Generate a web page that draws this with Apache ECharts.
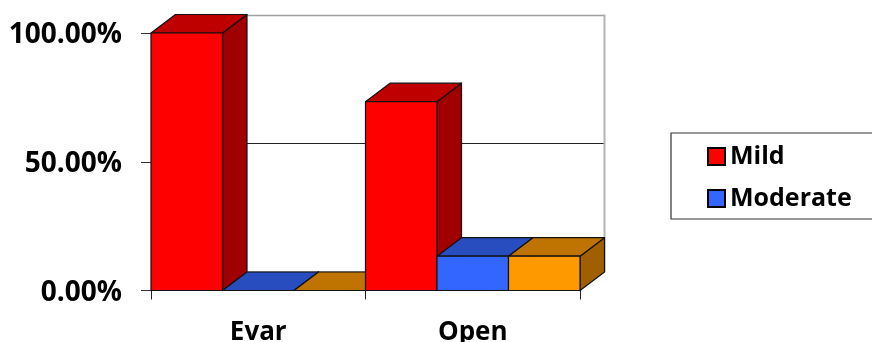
<!DOCTYPE html>
<html>
<head>
<meta charset="utf-8">
<style>html,body{margin:0;padding:0;background:#fff}#chart{width:872px;height:342px}</style>
<script src="https://cdn.jsdelivr.net/npm/echarts@6/dist/echarts.min.js"></script>
</head>
<body>
<div id="chart"></div>
<script>
const categories = ['Evar', 'Open'];
const mild = [100, 73.33];
const moderate = [0, 13.33];
const severe = [0, 13.33];
const yTicks = [50, 100];
const seriesNames = ['Mild', 'Moderate', 'Severe'];
const legendNames = ['Mild', 'Moderate'];
const frontColors = ['#ff0000', '#3366ff', '#ff9900'];
const topColors = ['#bf0000', '#274dbf', '#bf7300'];
const sideColors = ['#a00000', '#2040a0', '#a06000'];

// Oblique projection offset of the chart's depth axis, in pixels.
const DEPTH_X = 24.5;
const DEPTH_Y = -18.5;
const EDGE = '#111';

const chart = echarts.init(document.getElementById('chart'), null, { renderer: 'canvas' });

function face(points, fill, z2) {
  return {
    type: 'polygon',
    z2,
    shape: { points },
    style: { fill, stroke: EDGE, lineWidth: 1.2, lineJoin: 'round' }
  };
}

// One extruded bar: front, top and right-hand faces.
function barRenderer(seriesIndex) {
  return function (params, api) {
    const cat = api.value(0);
    const band = api.size([1, 0])[0];
    const barW = band / seriesNames.length;
    const base = api.coord([cat, 0]);
    const head = api.coord([cat, api.value(1)]);
    const x0 = base[0] - band / 2 + seriesIndex * barW;
    const x1 = x0 + barW;
    const yB = base[1];
    const yT = head[1];
    const z = cat * 10 + seriesIndex + 2;
    return {
      type: 'group',
      children: [
        face([[x1, yT], [x1 + DEPTH_X, yT + DEPTH_Y], [x1 + DEPTH_X, yB + DEPTH_Y], [x1, yB]], sideColors[seriesIndex], z),
        face([[x0, yT], [x0 + DEPTH_X, yT + DEPTH_Y], [x1 + DEPTH_X, yT + DEPTH_Y], [x1, yT]], topColors[seriesIndex], z),
        face([[x0, yB], [x0, yT], [x1, yT], [x1, yB]], frontColors[seriesIndex], z)
      ]
    };
  };
}

// Back wall: the gridline, the top edge and the right edge, pushed back by the depth offset.
function wallRenderer(params, api) {
  const cs = params.coordSys;
  const xL = cs.x + DEPTH_X;
  const xR = cs.x + cs.width + DEPTH_X;
  const children = [];
  yTicks.forEach(function (t) {
    const y = Math.round(api.coord([0, t])[1] + DEPTH_Y) + 0.5;
    children.push({
      type: 'line',
      z2: 0,
      shape: { x1: xL, y1: y, x2: xR, y2: y },
      style: { stroke: t === 100 ? '#a0a0a0' : '#222', lineWidth: t === 100 ? 1.6 : 1 }
    });
  });
  const yTop = api.coord([0, 100])[1] + DEPTH_Y;
  const yBot = api.coord([0, 0])[1] + DEPTH_Y;
  children.push({
    type: 'line',
    z2: 0,
    shape: { x1: xR, y1: yTop, x2: xR, y2: yBot },
    style: { stroke: '#b4b4b4', lineWidth: 2 }
  });
  children.push({
    type: 'line',
    z2: 0,
    shape: { x1: xL, y1: yBot, x2: xR, y2: yBot },
    style: { stroke: '#666', lineWidth: 1 }
  });
  return { type: 'group', children };
}

const valueSets = [mild, moderate, severe];

chart.setOption({
  animation: false,
  backgroundColor: '#fff',
  grid: { left: 151, right: 292, top: 33, bottom: 51.5, outerBoundsMode: 'none' },
  legend: {
    data: legendNames,
    orient: 'vertical',
    left: 671,
    top: 133,
    padding: [11, 60, 8, 36],
    itemWidth: 17,
    itemHeight: 17,
    itemGap: 17,
    icon: 'rect',
    backgroundColor: '#fff',
    borderColor: '#333',
    borderWidth: 1.2,
    borderRadius: 0,
    itemStyle: { borderColor: '#000', borderWidth: 2 },
    textStyle: { fontFamily: 'Open Sans', fontWeight: 'bold', fontSize: 25, color: '#000' }
  },
  xAxis: {
    type: 'category',
    data: categories,
    boundaryGap: true,
    axisLine: { lineStyle: { color: '#444', width: 1.2 } },
    axisTick: { show: true, length: 9, alignWithLabel: false, lineStyle: { color: '#222', width: 1 } },
    axisLabel: { margin: 29, fontFamily: 'Open Sans', fontWeight: 'bold', fontSize: 26, color: '#000' }
  },
  yAxis: {
    type: 'value',
    min: 0,
    max: 100,
    interval: 50,
    axisLine: { show: false },
    axisTick: { show: true, length: 10, lineStyle: { color: '#333', width: 1 } },
    splitLine: { show: false },
    axisLabel: {
      margin: 29,
      formatter: function (v) { return '{tick|' + v.toFixed(2) + '%}'; },
      rich: {
        tick: {
          padding: [5, 0, 0, 0],
          fontFamily: 'Open Sans',
          fontWeight: 'bold',
          fontSize: 28,
          color: '#000'
        }
      }
    }
  },
  series: [
    {
      type: 'custom',
      name: 'wall',
      silent: true,
      clip: false,
      renderItem: wallRenderer,
      encode: { x: 0, y: 1 },
      data: [[0, 0]]
    }
  ].concat(seriesNames.map(function (name, i) {
    return {
      type: 'custom',
      name,
      clip: false,
      itemStyle: { color: frontColors[i] },
      renderItem: barRenderer(i),
      encode: { x: 0, y: 1 },
      data: valueSets[i].map(function (v, c) { return [c, v]; })
    };
  }))
});
</script>
</body>
</html>
